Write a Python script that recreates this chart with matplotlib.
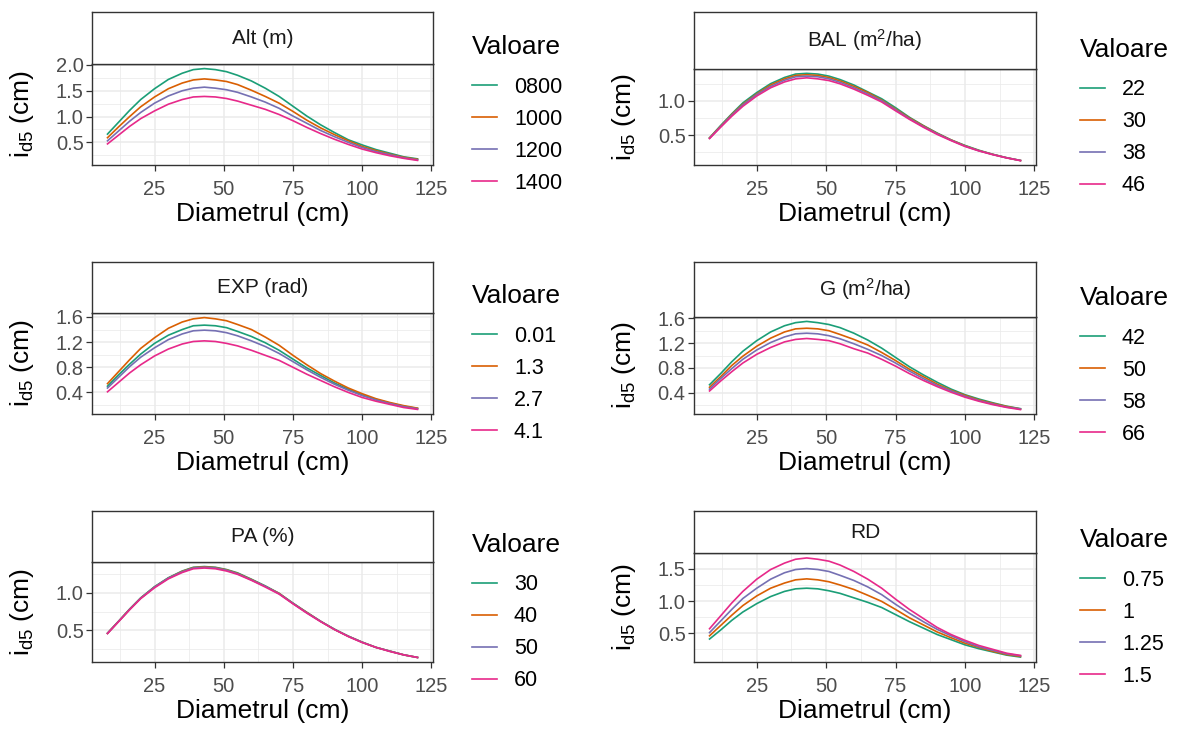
import matplotlib
matplotlib.use("Agg")
import matplotlib.pyplot as plt
from matplotlib.ticker import FixedLocator, FormatStrFormatter

plt.rcParams["font.family"] = ["Liberation Sans", "DejaVu Sans"]
plt.rcParams["mathtext.fontset"] = "custom"
plt.rcParams["mathtext.rm"] = "Liberation Sans"
plt.rcParams["mathtext.it"] = "Liberation Sans:italic"

# diameters (cm) at which the curves were read
diam = [8, 12, 16, 20, 25, 30, 35, 39, 43, 47, 51, 55, 60, 65, 70, 75, 80, 85, 90, 95, 100, 105, 110, 115, 120]

alt_levels = ["0800", "1000", "1200", "1400"]
alt_vals = [
    [0.66, 0.89, 1.12, 1.33, 1.54, 1.72, 1.84, 1.91, 1.93, 1.91, 1.87, 1.80, 1.69, 1.55, 1.39, 1.20, 1.01, 0.84, 0.69, 0.55, 0.45, 0.36, 0.29, 0.22, 0.18],
    [0.59, 0.80, 1.00, 1.19, 1.38, 1.54, 1.65, 1.71, 1.73, 1.71, 1.68, 1.62, 1.51, 1.39, 1.26, 1.10, 0.93, 0.78, 0.65, 0.53, 0.42, 0.34, 0.27, 0.21, 0.17],
    [0.53, 0.72, 0.91, 1.08, 1.26, 1.40, 1.50, 1.55, 1.57, 1.55, 1.52, 1.47, 1.38, 1.28, 1.16, 1.01, 0.87, 0.73, 0.61, 0.50, 0.40, 0.32, 0.26, 0.20, 0.16],
    [0.47, 0.64, 0.81, 0.96, 1.11, 1.24, 1.33, 1.38, 1.39, 1.38, 1.35, 1.30, 1.22, 1.14, 1.04, 0.92, 0.79, 0.67, 0.56, 0.46, 0.37, 0.30, 0.24, 0.19, 0.15],
]

bal_levels = ["22", "30", "38", "46"]
bal_vals = [
    [0.46, 0.64, 0.81, 0.97, 1.12, 1.25, 1.34, 1.39, 1.40, 1.39, 1.36, 1.31, 1.23, 1.13, 1.03, 0.90, 0.76, 0.64, 0.53, 0.43, 0.35, 0.28, 0.22, 0.17, 0.13],
    [0.46, 0.63, 0.80, 0.95, 1.10, 1.23, 1.32, 1.37, 1.38, 1.37, 1.34, 1.29, 1.21, 1.12, 1.01, 0.88, 0.75, 0.635, 0.525, 0.43, 0.345, 0.275, 0.22, 0.17, 0.13],
    [0.455, 0.625, 0.79, 0.94, 1.09, 1.21, 1.30, 1.35, 1.36, 1.35, 1.32, 1.27, 1.19, 1.10, 1.00, 0.87, 0.74, 0.625, 0.52, 0.425, 0.34, 0.272, 0.218, 0.17, 0.13],
    [0.45, 0.615, 0.775, 0.92, 1.07, 1.19, 1.275, 1.32, 1.335, 1.32, 1.295, 1.248, 1.17, 1.08, 0.983, 0.855, 0.73, 0.615, 0.51, 0.42, 0.335, 0.27, 0.215, 0.168, 0.128],
]

exp_levels = ["0.01", "1.3", "2.7", "4.1"]
exp_vals = [
    [0.50, 0.68, 0.85, 1.01, 1.18, 1.31, 1.40, 1.46, 1.47, 1.46, 1.43, 1.37, 1.29, 1.19, 1.07, 0.93, 0.79, 0.67, 0.55, 0.45, 0.36, 0.29, 0.23, 0.18, 0.145],
    [0.54, 0.73, 0.92, 1.10, 1.27, 1.42, 1.52, 1.57, 1.59, 1.57, 1.54, 1.48, 1.40, 1.28, 1.15, 0.99, 0.84, 0.70, 0.58, 0.47, 0.38, 0.30, 0.24, 0.19, 0.15],
    [0.47, 0.64, 0.81, 0.96, 1.11, 1.24, 1.33, 1.38, 1.39, 1.38, 1.35, 1.30, 1.22, 1.13, 1.02, 0.89, 0.76, 0.64, 0.53, 0.435, 0.35, 0.28, 0.224, 0.175, 0.14],
    [0.41, 0.56, 0.71, 0.84, 0.98, 1.09, 1.17, 1.21, 1.22, 1.21, 1.18, 1.14, 1.07, 0.99, 0.91, 0.80, 0.69, 0.59, 0.49, 0.40, 0.32, 0.26, 0.21, 0.16, 0.13],
]

g_levels = ["42", "50", "58", "66"]
g_vals = [
    [0.53, 0.71, 0.90, 1.07, 1.24, 1.38, 1.48, 1.53, 1.55, 1.53, 1.50, 1.45, 1.36, 1.25, 1.12, 0.97, 0.82, 0.69, 0.57, 0.46, 0.37, 0.30, 0.24, 0.185, 0.145],
    [0.49, 0.66, 0.84, 0.99, 1.15, 1.28, 1.38, 1.43, 1.44, 1.43, 1.40, 1.34, 1.26, 1.17, 1.05, 0.92, 0.78, 0.66, 0.54, 0.44, 0.36, 0.285, 0.23, 0.18, 0.14],
    [0.46, 0.63, 0.79, 0.94, 1.09, 1.21, 1.30, 1.35, 1.36, 1.35, 1.32, 1.27, 1.19, 1.10, 1.00, 0.88, 0.75, 0.63, 0.52, 0.43, 0.345, 0.275, 0.22, 0.17, 0.14],
    [0.43, 0.59, 0.74, 0.88, 1.02, 1.13, 1.22, 1.26, 1.275, 1.26, 1.24, 1.19, 1.11, 1.04, 0.94, 0.83, 0.71, 0.60, 0.50, 0.41, 0.33, 0.265, 0.21, 0.165, 0.13],
]

pa_levels = ["30", "40", "50", "60"]
pa_vals = [
    [0.46, 0.62, 0.785, 0.935, 1.085, 1.205, 1.295, 1.345, 1.355, 1.345, 1.315, 1.27, 1.185, 1.095, 0.995, 0.865, 0.74, 0.62, 0.515, 0.42, 0.34, 0.27, 0.22, 0.17, 0.135],
    [0.46, 0.62, 0.78, 0.93, 1.08, 1.20, 1.29, 1.34, 1.35, 1.34, 1.31, 1.263, 1.18, 1.09, 0.995, 0.86, 0.74, 0.62, 0.51, 0.42, 0.34, 0.27, 0.22, 0.17, 0.135],
    [0.46, 0.62, 0.78, 0.93, 1.08, 1.20, 1.285, 1.335, 1.345, 1.335, 1.305, 1.258, 1.175, 1.09, 0.99, 0.86, 0.735, 0.62, 0.51, 0.42, 0.34, 0.27, 0.22, 0.17, 0.135],
    [0.455, 0.615, 0.775, 0.925, 1.07, 1.19, 1.275, 1.325, 1.335, 1.325, 1.295, 1.25, 1.17, 1.08, 0.985, 0.855, 0.73, 0.615, 0.51, 0.415, 0.335, 0.27, 0.215, 0.17, 0.135],
]

rd_levels = ["0.75", "1", "1.25", "1.5"]
rd_vals = [
    [0.41, 0.55, 0.70, 0.83, 0.96, 1.07, 1.15, 1.19, 1.20, 1.19, 1.16, 1.12, 1.05, 0.98, 0.90, 0.79, 0.68, 0.58, 0.48, 0.40, 0.32, 0.26, 0.21, 0.16, 0.13],
    [0.46, 0.62, 0.78, 0.93, 1.08, 1.20, 1.28, 1.33, 1.345, 1.33, 1.30, 1.25, 1.18, 1.09, 0.995, 0.87, 0.74, 0.63, 0.52, 0.43, 0.345, 0.28, 0.22, 0.17, 0.14],
    [0.51, 0.69, 0.87, 1.04, 1.20, 1.34, 1.44, 1.49, 1.505, 1.49, 1.46, 1.40, 1.32, 1.22, 1.10, 0.95, 0.81, 0.68, 0.56, 0.46, 0.37, 0.29, 0.235, 0.18, 0.15],
    [0.57, 0.77, 0.97, 1.15, 1.34, 1.49, 1.59, 1.65, 1.67, 1.65, 1.62, 1.56, 1.46, 1.34, 1.20, 1.03, 0.87, 0.73, 0.59, 0.48, 0.39, 0.31, 0.25, 0.19, 0.155],
]

x_breaks = [25, 50, 75, 100, 125]
x_minor = [12.5, 37.5, 62.5, 87.5, 112.5]

COLORS = ["#1B9E77", "#D95F02", "#7570B3", "#E7298A"]  # Dark2
W, H = 1181, 731

# title, levels, curves, y breaks, layout in px: (left, right, strip top, panel top, panel bottom)
panels = [
    ("Alt (m)", alt_levels, alt_vals, [0.5, 1.0, 1.5, 2.0], (92, 433, 12, 64, 165)),
    ("BAL (m$^2$/ha)", bal_levels, bal_vals, [0.5, 1.0], (694, 1036, 12, 69, 165)),
    ("EXP (rad)", exp_levels, exp_vals, [0.4, 0.8, 1.2, 1.6], (92, 433, 262, 313, 414)),
    ("G (m$^2$/ha)", g_levels, g_vals, [0.4, 0.8, 1.2, 1.6], (694, 1036, 262, 317, 414)),
    ("PA (%)", pa_levels, pa_vals, [0.5, 1.0], (92, 433, 511, 562, 662)),
    ("RD", rd_levels, rd_vals, [0.5, 1.0, 1.5], (694, 1036, 511, 553, 662)),
]

fig = plt.figure(figsize=(W / 100, H / 100), dpi=100)

for title, levels, vals, ybreaks, (l, r, st, pt, pb) in panels:
    ax = fig.add_axes([l / W, 1 - pb / H, (r - l) / W, (pb - pt) / H])
    for lev, ys, col in zip(levels, vals, COLORS):
        ax.plot(diam, ys, color=col, lw=1.2, label=lev)

    ax.margins(x=0.05, y=0.05)
    ax.xaxis.set_major_locator(FixedLocator(x_breaks))
    ax.xaxis.set_minor_locator(FixedLocator(x_minor))
    ax.yaxis.set_major_locator(FixedLocator(ybreaks))
    step = ybreaks[1] - ybreaks[0]
    ymin = [ybreaks[0] - step / 2] + [b + step / 2 for b in ybreaks]
    ax.yaxis.set_minor_locator(FixedLocator(ymin))
    ax.yaxis.set_major_formatter(FormatStrFormatter("%.1f"))
    ax.set_axisbelow(True)
    ax.grid(which="major", color="#EBEBEB", lw=1.1)
    ax.grid(which="minor", color="#EBEBEB", lw=0.55)
    ax.tick_params(which="minor", length=0)
    ax.tick_params(axis="both", which="major", length=4.5, width=0.9,
                   color="#333333", labelcolor="#4D4D4D", labelsize=14.5)
    ax.tick_params(axis="y", pad=1.5)
    ax.tick_params(axis="x", pad=6.5)
    for sp in ax.spines.values():
        sp.set_color("#333333")
        sp.set_linewidth(1.0)

    ax.set_xlabel("Diametrul (cm)", fontsize=19, labelpad=2)
    ax.set_ylabel(r"$\mathregular{i_{d5}}$ (cm)", fontsize=19)
    ax.yaxis.set_label_coords(-0.165, 0.5)

    # facet strip
    sax = fig.add_axes([l / W, 1 - pt / H, (r - l) / W, (pt - st) / H])
    sax.set_xticks([])
    sax.set_yticks([])
    sax.set_facecolor("white")
    for sp in sax.spines.values():
        sp.set_color("#333333")
        sp.set_linewidth(1.0)
    sax.text(0.5, 0.5, title, ha="center", va="center", fontsize=15,
             color="#1A1A1A", transform=sax.transAxes)

    lx = (r + (39 if l < 500 else 44)) / W
    leg = ax.legend(loc="center left", bbox_to_anchor=(lx, 1 - (pt + pb) / 2 / H),
                    bbox_transform=fig.transFigure, frameon=False, borderpad=0,
                    borderaxespad=0, title="Valoare", title_fontsize=19,
                    alignment="left", fontsize=15.5, handlelength=1.15,
                    handletextpad=0.8, labelspacing=0.51)
    leg._legend_box.sep = 12.8  # extra room between title and keys

fig.savefig("out.png", dpi=100)
